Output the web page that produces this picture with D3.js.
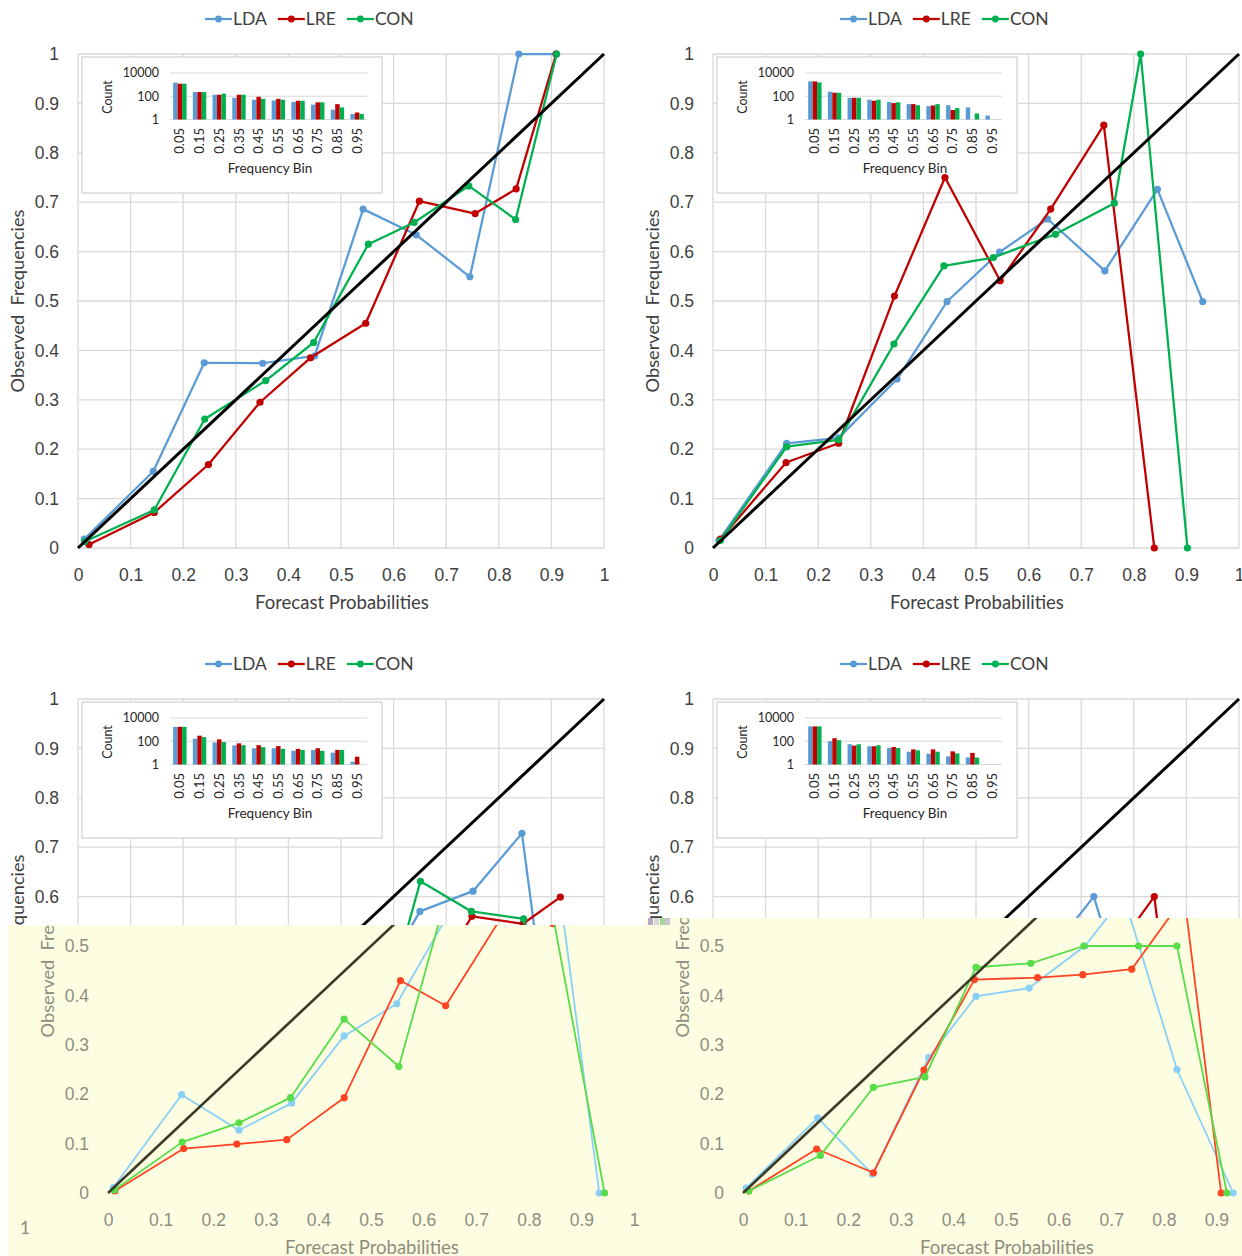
<!DOCTYPE html>
<html>
<head>
<meta charset="utf-8">
<script src="https://cdn.jsdelivr.net/npm/d3@7"></script>
<style>
  html, body { margin: 0; padding: 0; background: #fff; }
  svg { display: block; font-family: Lato, "Open Sans", sans-serif; }
</style>
</head>
<body>
<svg id="chart" width="1242" height="1256"></svg>
<script>
// Data
const SERIES = ["LDA", "LRE", "CON"];
const PROB_TICKS = [0, 0.1, 0.2, 0.3, 0.4, 0.5, 0.6, 0.7, 0.8, 0.9, 1];
const BINS = ["0.05","0.15","0.25","0.35","0.45","0.55","0.65","0.75","0.85","0.95"];
const COUNT_TICKS = [1, 100, 10000];
const DIAG = [[0, 0], [1, 1]];

// top left: [forecast, observed]
const tlLDA = [[0.012,0.018],[0.143,0.155],[0.240,0.375],[0.351,0.374],[0.450,0.389],[0.542,0.686],[0.643,0.634],[0.745,0.549],[0.838,1.0],[0.909,1.0]];
const tlLRE = [[0.021,0.007],[0.145,0.072],[0.248,0.169],[0.346,0.295],[0.442,0.385],[0.547,0.455],[0.649,0.702],[0.755,0.677],[0.833,0.727],[0.909,1.0]];
const tlCON = [[0.013,0.013],[0.145,0.077],[0.241,0.261],[0.357,0.339],[0.448,0.416],[0.552,0.615],[0.639,0.659],[0.743,0.733],[0.832,0.665],[0.910,1.0]];
const tlCountLDA = [1500, 230, 135, 74, 50, 44, 32, 19, 7, 3];
const tlCountLRE = [1200, 230, 135, 135, 90, 60, 41, 30, 21, 4];
const tlCountCON = [1200, 230, 165, 135, 60, 50, 41, 30, 11, 3];

// top right
const trLDA = [[0.011,0.015],[0.140,0.212],[0.239,0.223],[0.350,0.342],[0.445,0.499],[0.545,0.599],[0.636,0.666],[0.745,0.561],[0.845,0.726],[0.931,0.499]];
const trLRE = [[0.014,0.018],[0.139,0.173],[0.239,0.212],[0.345,0.510],[0.441,0.750],[0.546,0.541],[0.642,0.686],[0.743,0.856],[0.839,0]];
const trCON = [[0.014,0.015],[0.140,0.205],[0.239,0.219],[0.344,0.413],[0.439,0.571],[0.533,0.588],[0.651,0.635],[0.763,0.698],[0.813,1.0],[0.902,0]];
const trCountLDA = [1900, 245, 74, 50, 32, 21, 14, 17, 11, 2.2];
const trCountLRE = [1900, 200, 74, 41, 26, 21, 16, 6.5, null, null];
const trCountCON = [1550, 200, 74, 50, 30, 17, 21, 9.5, 3.3, null];

// bottom left
const blLDA = [[0.010,0.011],[0.140,0.199],[0.249,0.127],[0.349,0.182],[0.449,0.318],[0.549,0.383],[0.650,0.570],[0.751,0.611],[0.844,0.728],[0.934,0]];
const blLRE = [[0.013,0.004],[0.144,0.090],[0.245,0.099],[0.340,0.108],[0.449,0.193],[0.556,0.430],[0.642,0.379],[0.749,0.560],[0.846,0.545],[0.917,0.599]];
const blCON = [[0.012,0.006],[0.141,0.103],[0.249,0.142],[0.347,0.193],[0.449,0.352],[0.553,0.256],[0.651,0.631],[0.748,0.570],[0.847,0.555],[0.944,0]];
const blCountLDA = [1740, 166, 79, 44, 25, 25, 15, 18, 10.5, 1.7];
const blCountLRE = [1740, 300, 145, 66, 46, 38, 22, 25, 18, 4.7];
const blCountCON = [1740, 229, 85, 46, 31, 22, 18, 15, 18, null];

// bottom right
const brLDA = [[0.006,0.010],[0.142,0.152],[0.246,0.038],[0.353,0.274],[0.443,0.398],[0.544,0.415],[0.650,0.500],[0.724,0.600],[0.825,0.250],[0.932,0]];
const brLRE = [[0.011,0.004],[0.140,0.089],[0.248,0.041],[0.344,0.249],[0.440,0.432],[0.560,0.436],[0.646,0.442],[0.739,0.453],[0.839,0.600],[0.909,0]];
const brCON = [[0.011,0.004],[0.147,0.076],[0.248,0.214],[0.346,0.235],[0.443,0.457],[0.547,0.465],[0.648,0.500],[0.752,0.500],[0.825,0.500],[0.920,0]];
const brCountLDA = [1900, 100, 55, 37, 26, 12.6, 8.5, 5, 4, null];
const brCountLRE = [1900, 182, 42, 37, 32, 20, 20, 13.5, 10, null];
const brCountCON = [1900, 123, 55, 45, 26, 16.6, 12.6, 9, 4, null];

// Styles
const BASE = {
  colors: { LDA: "#5b9bd5", LRE: "#c00000", CON: "#00b050" },
  diag: "#000", text: "#404040", grid: "#d9d9d9", lineW: 2.25, diagW: 3
};
const FADED = {
  colors: { LDA: "#8ad0f6", LRE: "#ff4424", CON: "#58dc48" },
  diag: "#3a3a26", text: "#8e8e80", grid: null, lineW: 1.8, diagW: 2.6
};
const W = 526, H = 494;

const svg = d3.select("#chart");

function drawPanel(root, o, st) {
  const g = root.append("g").attr("transform", `translate(${o.x0},${o.top})`);
  const x = d3.scaleLinear().domain([0, 1]).range([0, W]);
  const y = d3.scaleLinear().domain([0, 1]).range([H, 0]);

  if (st.grid) {
    g.append("g").selectAll("line").data(PROB_TICKS).join("line")
      .attr("x1", d => x(d)).attr("x2", d => x(d)).attr("y1", 0).attr("y2", H)
      .attr("stroke", st.grid).attr("stroke-width", 1.3);
    g.append("g").selectAll("line").data(PROB_TICKS).join("line")
      .attr("y1", d => y(d)).attr("y2", d => y(d)).attr("x1", 0).attr("x2", W)
      .attr("stroke", st.grid).attr("stroke-width", 1.3);
  }

  const fmt = d3.format("~g");
  g.append("g").attr("transform", `translate(0,${H})`)
    .call(d3.axisBottom(x).tickValues(PROB_TICKS).tickFormat(fmt).tickSize(0).tickPadding(21))
    .call(a => a.select(".domain").remove())
    .call(a => a.selectAll("text").attr("fill", st.text).attr("font-size", 17.5).attr("font-family", null));
  g.append("g")
    .call(d3.axisLeft(y).tickValues(PROB_TICKS).tickFormat(fmt).tickSize(0).tickPadding(19))
    .call(a => a.select(".domain").remove())
    .call(a => a.selectAll("text").attr("fill", st.text).attr("font-size", 17.5).attr("font-family", null));

  g.append("text").attr("x", W / 2 + 1).attr("y", H + 61)
    .attr("text-anchor", "middle").attr("fill", st.text).attr("font-size", 18.5)
    .text("Forecast Probabilities");
  g.append("text").attr("transform", `translate(-60,${H / 2}) rotate(-90)`)
    .attr("text-anchor", "middle").attr("dy", "0.35em").attr("fill", st.text).attr("font-size", 18.2)
    .text("Observed  Frequencies").style("white-space", "pre");

  if (o.inset) drawInset(g.append("g").attr("transform", "translate(4,3)"), o.counts);

  const line = d3.line().x(d => x(d[0])).y(d => y(d[1]));
  SERIES.forEach(s => {
    const data = o.series[s];
    g.append("path").attr("d", line(data)).attr("fill", "none")
      .attr("stroke", st.colors[s]).attr("stroke-width", st.lineW).attr("stroke-linejoin", "round");
    g.append("g").selectAll("circle").data(data).join("circle")
      .attr("cx", d => x(d[0])).attr("cy", d => y(d[1])).attr("r", 3.6)
      .attr("fill", st.colors[s]);
  });
  g.append("path").attr("d", line(DIAG)).attr("stroke", st.diag)
    .attr("stroke-width", st.diagW).attr("fill", "none");

  if (o.legend) {
    const lg = g.append("g").attr("transform", `translate(127,-35)`);
    let cx = 0;
    SERIES.forEach(s => {
      const it = lg.append("g").attr("transform", `translate(${cx},0)`);
      it.append("line").attr("x1", 0).attr("x2", 27).attr("stroke", st.colors[s]).attr("stroke-width", 2.25);
      it.append("circle").attr("cx", 13.5).attr("r", 3.4).attr("fill", st.colors[s]);
      const t = it.append("text").attr("x", 28).attr("dy", "0.35em")
        .attr("fill", st.text).attr("font-size", 17.5).text(s);
      cx += 28 + t.node().getComputedTextLength() + 11;
    });
  }
}

function drawInset(g, counts) {
  g.append("rect").attr("width", 300).attr("height", 136)
    .attr("fill", "#fff").attr("stroke", "#d9d9d9").attr("stroke-width", 1.5);
  const x = d3.scaleBand().domain(BINS).range([88, 285]).paddingInner(0.32).paddingOuter(0.16);
  const sub = d3.scaleBand().domain(SERIES).range([0, x.bandwidth()]);
  const y = d3.scaleLog().domain([1, 10000]).range([62.5, 16]);

  g.append("g").selectAll("line").data(COUNT_TICKS).join("line")
    .attr("x1", 88).attr("x2", 285).attr("y1", d => y(d)).attr("y2", d => y(d))
    .attr("stroke", "#d9d9d9").attr("stroke-width", 1.2);
  g.append("g").selectAll("text").data(COUNT_TICKS).join("text")
    .attr("x", 77).attr("y", d => y(d)).attr("dy", "0.35em").attr("text-anchor", "end")
    .attr("fill", "#262626").attr("font-size", 12.5).text(d => d);

  SERIES.forEach(s => {
    g.append("g").selectAll("rect").data(BINS.map((b, i) => [b, counts[s][i]]).filter(d => d[1] != null)).join("rect")
      .attr("x", d => x(d[0]) + sub(s)).attr("width", sub.bandwidth())
      .attr("y", d => y(d[1])).attr("height", d => y(1) - y(d[1]))
      .attr("fill", BASE.colors[s]);
  });

  g.append("g").selectAll("text").data(BINS).join("text")
    .attr("transform", d => `translate(${x(d) + x.bandwidth() / 2},71) rotate(-90)`)
    .attr("text-anchor", "end").attr("dy", "0.35em")
    .attr("fill", "#262626").attr("font-size", 13).text(d => d);

  g.append("text").attr("transform", "translate(26,40) rotate(-90)")
    .attr("text-anchor", "middle").attr("dy", "0.35em")
    .attr("fill", "#262626").attr("font-size", 12.5).text("Count");
  g.append("text").attr("x", 188).attr("y", 111).attr("dy", "0.35em")
    .attr("text-anchor", "middle").attr("fill", "#262626").attr("font-size", 13.5).text("Frequency Bin");
}

// Panels
const panels = [
  { x0: 78, top: 54, series: { LDA: tlLDA, LRE: tlLRE, CON: tlCON }, counts: { LDA: tlCountLDA, LRE: tlCountLRE, CON: tlCountCON } },
  { x0: 713, top: 54, series: { LDA: trLDA, LRE: trLRE, CON: trCON }, counts: { LDA: trCountLDA, LRE: trCountLRE, CON: trCountCON } },
  { x0: 78, top: 699, series: { LDA: blLDA, LRE: blLRE, CON: blCON }, counts: { LDA: blCountLDA, LRE: blCountLRE, CON: blCountCON } },
  { x0: 713, top: 699, series: { LDA: brLDA, LRE: brLRE, CON: brCON }, counts: { LDA: brCountLDA, LRE: brCountLRE, CON: brCountCON } }
];
panels.forEach(p => drawPanel(svg, Object.assign({ inset: true, legend: true }, p), BASE));

// Pasted-over lower halves (shifted, faded copies on a pale yellow patch)
const patches = [
  { id: "clipL", x: 8, y: 925, w: 637, h: 331, panel: panels[2] },
  { id: "clipR", x: 645, y: 918, w: 597, h: 338, panel: panels[3] }
];
const defs = svg.append("defs");
patches.forEach(pt => {
  defs.append("clipPath").attr("id", pt.id).append("rect")
    .attr("x", pt.x).attr("y", pt.y).attr("width", pt.w).attr("height", pt.h);
  const g = svg.append("g").attr("clip-path", `url(#${pt.id})`);
  g.append("rect").attr("x", pt.x).attr("y", pt.y).attr("width", pt.w).attr("height", pt.h)
    .attr("fill", "#fdfde2");
  drawPanel(g, { x0: pt.panel.x0 + 30, top: pt.panel.top, series: pt.panel.series, inset: false, legend: false }, FADED);
});
// seam artefacts of the paste
svg.append("g").selectAll("rect")
  .data([["#b8a8c6", 648], ["#d4d4d4", 654], ["#a6d59a", 660], ["#c9c0d4", 665]]).join("rect")
  .attr("x", d => d[1]).attr("y", 918).attr("width", 5).attr("height", 7).attr("fill", d => d[0]);
svg.append("text").attr("x", 25).attr("y", 1228).attr("dy", "0.35em").attr("text-anchor", "middle")
  .attr("fill", FADED.text).attr("font-size", 18).text("1");
</script>
</body>
</html>
